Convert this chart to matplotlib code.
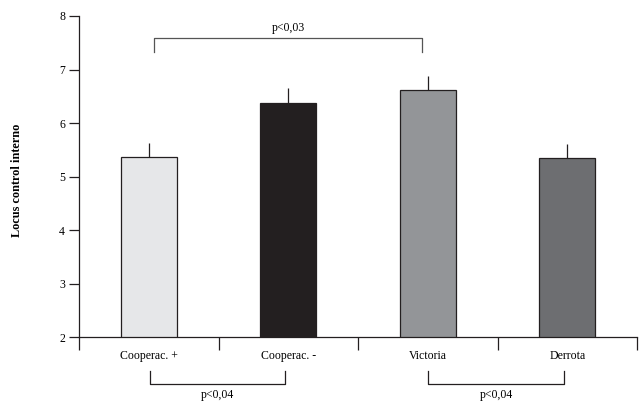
import matplotlib
matplotlib.use("Agg")
import matplotlib.pyplot as plt

# data
categories = ["Cooperac. +", "Cooperac. -", "Victoria", "Derrota"]
means = [5.37, 6.38, 6.62, 5.34]
errors = [0.26, 0.28, 0.26, 0.27]
bar_colors = ["#e6e7e9", "#231f20", "#939598", "#6d6e71"]
y_ticks = [2, 3, 4, 5, 6, 7, 8]

# significance brackets: (x0, x1, label)
top_bracket = (0.54, 2.46, "p<0,03")
bottom_brackets = [(0.51, 1.48, "p<0,04"), (2.50, 3.48, "p<0,04")]

plt.rcParams["font.family"] = ["Liberation Serif", "DejaVu Serif"]
fs = 8.5

fig = plt.figure(figsize=(6.43, 4.08), dpi=100)
ax = fig.add_axes([0.1229, 0.1733, 0.8678, 0.7875])

x = [i + 0.5 for i in range(len(categories))]
ax.bar(x, means, width=0.4, bottom=0, color=bar_colors,
       edgecolor="#231f20", linewidth=0.9, zorder=2)
ax.errorbar(x, means, yerr=[[0] * len(errors), errors], fmt="none",
            ecolor="#231f20", elinewidth=0.9, capsize=0, zorder=1)

ax.set_xlim(0, 4)
ax.set_ylim(2, 8)
ax.set_yticks(y_ticks)
ax.set_xticks([0, 1, 2, 3, 4])
ax.set_xticklabels([])
ax.set_xticks(x, minor=True)
ax.set_xticklabels(categories, minor=True, fontsize=fs)
ax.tick_params(axis="x", which="minor", length=0, pad=9)
ax.tick_params(axis="x", which="major", length=9, width=0.9, color="#231f20")
ax.tick_params(axis="y", length=7, width=0.9, labelsize=fs, pad=3,
               color="#231f20")

for side in ["top", "right"]:
    ax.spines[side].set_visible(False)
for side in ["left", "bottom"]:
    ax.spines[side].set_linewidth(0.9)
    ax.spines[side].set_color("#231f20")

ax.set_ylabel("Locus control interno", fontsize=8.8, fontweight="bold",
              labelpad=24)
ax.yaxis.set_label_coords(-0.1, 0.49)

# top bracket in data coords
x0, x1, lab = top_bracket
ax.plot([x0, x0, x1, x1], [7.33, 7.59, 7.59, 7.33], color="#555555",
        linewidth=0.9, clip_on=False)
ax.text((x0 + x1) / 2, 7.67, lab, ha="center", va="bottom", fontsize=fs)

# bottom brackets below the axis
trans = ax.get_xaxis_transform()
for x0, x1, lab in bottom_brackets:
    ax.plot([x0, x0, x1, x1], [-0.105, -0.145, -0.145, -0.105],
            color="#231f20", linewidth=0.9, transform=trans, clip_on=False)
    ax.text((x0 + x1) / 2, -0.16, lab, ha="center", va="top",
            fontsize=fs, transform=trans)

fig.savefig("out.png", dpi=100)
